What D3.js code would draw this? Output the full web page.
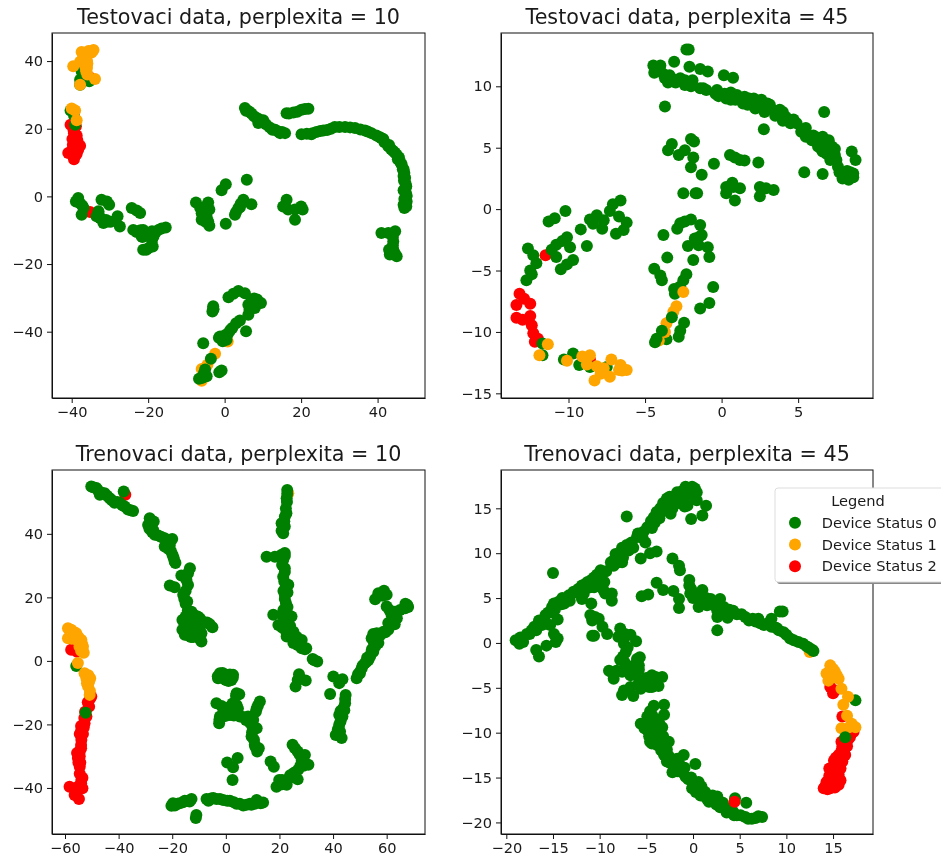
<!DOCTYPE html>
<html>
<head>
<meta charset="utf-8">
<title>t-SNE perplexita</title>
<script src="https://d3js.org/d3.v7.min.js"></script>
<style>
    html, body { margin: 0; background: #fff; }
    svg { display: block; filter: blur(0.45px); }
    text { font-family: "DejaVu Sans", sans-serif; fill: #1a1a1a; }
    .tick text { font-size: 14.6px; }
    .tick line, .domain { stroke: #111; }
</style>
</head>
<body>
<svg></svg>
<script>
const statusNames = ['Device Status 0', 'Device Status 1', 'Device Status 2'];
const statusColors = ['green', 'orange', 'red'];

// Testovaci data, perplexita = 10
const test10Red = [[-35.4,35.3],[-40.3,21.2],[-38.9,20.7],[-39.4,18.7],[-39.4,16.7],[-37.8,15],[-39.7,15.3],[-40.9,12.8],[-39.1,12.3],[-39.4,11],[-38.3,13.8],[-35.2,-4.6],[-39.5,19.5],[-38.7,18],[-39.8,17],[-38.9,15.5],[-39,14],[-40,13.5],[-39.5,12],[-38.7,12.5],[-38.5,16.5]];
const test10GreenLow = [[-37.8,34.5],[-37.4,37],[-35.4,34],[-37.8,33],[-36.8,40],[-40.3,25.4],[-39.4,24],[-39.1,21.2],[-38.3,-0.5],[-38.9,-1.5],[-37.8,-2],[-36.9,-3.4],[-37.4,-5.4],[-33,-4.4],[-33.5,-5.9],[-32.2,-1],[-30.8,-1.5],[-30.2,-2.5],[-31.7,-7.9],[-30.4,-7.4],[-32.6,-6.4],[-28,-5.9],[-27.4,-8.9],[-24.3,-3.4],[-23,-4.2],[-22.1,-4.9],[-23.9,-9.9],[-22.6,-10.3],[-21.3,-9.9],[-21.7,-11.8],[-21.3,-15.8],[-20,-15.3],[-18.8,-14.8],[-18.6,-11.8],[-19,-10.3],[-17.3,-9.9],[-15.4,-9.2],[-7.5,-1.8],[-6.4,-3.4],[-4.3,-1.8],[-4,-3.9],[-6,-6.9],[-4.3,-7.4],[-4,-8.7],[-5.4,-4.9],[-0.8,1.8],[0.3,3.6],[5.8,4.9],[0.3,-8.1],[2.7,-5.4],[3.6,-3.4],[4.9,-1],[7,-2.3],[4.2,-2.2],[16.2,-1],[15.3,-3],[16.6,-3.9],[18.4,-3.9],[18.4,-6.9],[20,-3],[20.4,-3.9],[5.3,26.1],[6.4,25.1],[5.6,25.3],[8.4,23.2],[10.1,22.5],[8.8,21.7],[13.2,19.7],[14.5,18.7],[15.8,18.7],[16.2,24.6],[18,24.8],[20.1,25.6],[21.9,25.9],[20.1,18.4],[22.7,18.4],[24,19],[25.8,19.5],[28.8,20.5],[31.5,20.5],[34.1,20.2],[36.7,19.5],[38.4,18.7],[40.6,17.5],[42.8,14.8],[45,12.3],[46.3,9.4],[47,6.9],[47.3,3.9],[47.4,1],[47.6,-1.5],[47,-3.4],[39.7,18],[41.8,16],[44,13.5],[45.6,11.5],[46.6,8],[47.2,5.5],[47.3,2.5],[47.5,0],[41,-10.8],[42.8,-10.8],[44.6,-10.3],[44.1,-13.3],[44.1,-15.8],[43.2,-17.2],[45,-17.7],[44.3,-16.8]];
const test10GreenDense = [[21.5,18.5],[23,18.7],[25,19.3],[26.8,19.6],[27.8,20],[30,20.5],[32.8,20.4],[35.5,19.8],[37.4,19.2],[41.5,17],[43.5,14],[43,15.2],[44.5,13],[45.3,11],[46,10],[46.8,8],[46.8,6],[46.9,4.7],[47.5,3],[46.8,1.8],[47.6,0.2],[47,-0.8],[46.8,-2.5],[47.5,-3],[41,17.2],[5.8,25.5],[7,24.5],[7.7,23.7],[9,22.8],[9.5,22],[10.8,21.3],[11.8,20.4],[12.5,19.7],[14,19.2],[15,19],[16.8,24.5],[19,25],[21,25.8],[-22,-10],[-23,-10.5],[-21.5,-12],[-22,-10.8],[-20.5,-15.8],[-16.5,-9.5],[-18,-10.5],[-19,-13],[-5,-3],[-5.5,-6],[-5,-7.5],[-6,-5],[-4.7,-6],[-5.5,-4],[-37.2,-2.8],[-32,-6.8],[-33,-5],[3,-4.6],[4,-3.2],[-31,-7],[-29.8,-7.5],[44,-12],[44,-14.5],[43,-15.8],[44.5,-16.8]];
const test10Orange = [[-39.6,38.5],[-37.4,42.7],[-35.6,43],[-34.3,43.3],[-34.8,42.5],[-37.8,39.8],[-35.9,39.3],[-36.3,37.9],[-35.9,36],[-37.8,33],[-33.9,34.7],[-37,42.3],[-36.5,40.8],[-39.1,25.4],[-38.7,22.5],[-40,26],[-2.5,-46.5],[0.8,-42.9],[-6,-51],[-4.5,-49.8],[-6,-54.5],[-36.3,42],[-35.5,42.4],[-37,41],[-36,38],[-36.2,37],[-36,40]];
const test10Green = [[1,-29.8],[2.3,-28.8],[3.6,-28],[5.3,-28.6],[7.7,-30.2],[9.5,-31.5],[6.2,-32],[7.9,-33],[6.2,-35],[-3,-32.5],[-3.2,-34],[4,-36.7],[5.6,-39.9],[2,-38.9],[1,-40.4],[-0.8,-41.9],[0.5,-42.4],[-1.2,-41.4],[-5.6,-43.4],[-3.6,-48],[-5.1,-51.2],[-4.7,-53.2],[-6.7,-53.9],[-6,-53.7],[-0.8,-51.5],[-1.4,-52],[7,-31],[6.5,-33.5],[8.5,-30.5],[3,-37.5],[1.5,-39.5],[0.2,-41],[-0.5,-42.8],[-1.5,-41.8],[-5.4,-52.2],[-5.7,-53.5],[-3,-33.2],[-2.9,-33.4]];

// Testovaci data, perplexita = 45
const test45Red = [[-11.5,-3.75],[-13.2,-6.9],[-13.4,-7.8],[-12.9,-7.3],[-12.5,-7.7],[-13.4,-8.85],[-13,-9],[-12.5,-8.7],[-12.4,-9.45],[-12.3,-10.1],[-12,-10.55],[-12.2,-10.8],[-8.6,-12.25]];
const test45Green = [[-4.46,11.7],[-4,11.7],[-4.4,11.1],[-4,11.2],[-3.7,10.65],[-3.4,10.9],[-3.15,10.4],[-2.7,10.65],[-2.4,10.1],[-2.1,10.2],[-1.4,9.85],[-1.2,9.85],[-0.4,9.4],[-0.3,9.7],[0.2,9.4],[0.3,9],[1,9.3],[0.9,8.9],[1.5,9.15],[1.4,8.6],[2.1,9],[2.2,8.2],[2.6,8.9],[2.8,7.9],[3.15,8.5],[3.7,7.8],[3.8,8.1],[4.2,7.5],[4.5,7],[4.9,7],[5.4,6.4],[5.2,6.3],[6,6],[5.9,5.6],[6.3,5.1],[6.7,5.5],[6.85,4.5],[7.2,5.1],[7.1,4],[7.5,4],[7.6,3.45],[8,2.9],[7.9,2.5],[8.3,2.4],[8.6,2.9],[8.5,2.6],[6.7,7.9],[-3.7,8.35],[-3.1,12],[-2.1,11.6],[-2.3,13],[-2.15,13],[-1.4,11.4],[-0.9,11.2],[0.15,10.9],[0.75,10.7],[2.76,6.5],[8.5,4.7],[8.75,4],[5.4,3],[6.6,2.85],[-3.25,5.3],[-3.5,4.8],[-2.8,4.4],[-2.4,4.8],[-2,5.7],[-1.8,5.5],[-1.85,4.2],[-2,3.4],[-1.3,2.8],[-0.5,3.7],[-2.5,1.3],[-1.7,1.3],[-1.6,1.3],[0.55,4.4],[0.87,4.2],[1.2,4],[1.5,3.95],[2.4,3.8],[0.7,2.15],[0.3,1.8],[0.3,1.3],[1.2,1.7],[0.87,0.7],[2.5,1.8],[2.5,1.05],[2.9,1.7],[3.4,1.55],[0.76,1.8],[-6.6,0.7],[-7.1,0.4],[-7.3,-0.15],[-6.7,-0.6],[-6.2,-1.1],[-6.4,-1.7],[-6.9,-2],[-8.15,-0.5],[-8.6,-0.85],[-8.4,-1.2],[-7.8,-1.6],[-7.7,-0.9],[-10.2,-0.15],[-10.9,-0.75],[-11.3,-1],[-9.2,-1.65],[-8.8,-3],[-10.1,-2.3],[-10.8,-2.9],[-9.9,-3.1],[-11.1,-3.3],[-10.8,-3.9],[-9.7,-4.15],[-10.1,-4.5],[-10.5,-4.9],[-10.4,-2.6],[-12.65,-3.2],[-12.3,-3.75],[-12.1,-4.4],[-12.5,-5],[-12.4,-5.3],[-12.75,-5.8],[-11.7,-10.95],[-11.7,-11.9],[-10.3,-12.25],[-9.7,-11.75],[-9.3,-12.7],[-8.6,-12.85],[-7.5,-12.85],[-2,-0.85],[-2.4,-1],[-2.7,-1.15],[-2.9,-1.6],[-1.4,-1.3],[-3.8,-2.1],[-1.5,-2.3],[-1.75,-2.4],[-1.3,-2.1],[-2.2,-3],[-1.5,-2.95],[-0.9,-3.1],[-0.8,-3.9],[-1.85,-4.15],[-3.55,-3.95],[-4.4,-4.85],[-4,-5.4],[-3.9,-5.8],[-2.3,-5.3],[-2.5,-5.8],[-2.7,-6.3],[-3.1,-6.5],[-3.05,-6.9],[-0.55,-6.35],[-0.8,-7.65],[-1.4,-8.1],[-2.45,-9.25],[-2.7,-9.9],[-2.8,-10.4],[-3.6,-10.6]];
const test45GreenDense = [[-4.3,11.5],[-3.8,11],[-3.2,10.6],[-3.5,10.3],[-3,10.3],[-2.4,10.5],[-2,10],[-1.9,10.5],[-1,9.7],[-0.2,9.2],[0.6,9.5],[0.6,8.9],[1.2,9],[1.8,9],[1.7,8.5],[2.5,8.6],[2,8.5],[3,8.6],[2.8,8.2],[3.3,8.1],[3.5,7.6],[4,7.9],[4,7.2],[4.7,7.3],[5.5,6.6],[5.6,6],[5.5,5.9],[6.3,5.8],[6.5,4.9],[6.9,5.3],[6.6,4.7],[7.4,4.4],[7,4.8],[7.7,3],[8.2,3.1],[8.6,2.6],[8.1,2.7],[8.4,3],[7.4,4.9],[6.6,5.9],[7,5.6]];
const test45Orange = [[-11.35,-11],[-11.9,-11.9],[-10.1,-12.35],[-9.1,-12],[-8.6,-11.9],[-8.8,-12.65],[-8.15,-12.8],[-7.7,-12.95],[-7.2,-12.25],[-7.3,-13.65],[-7.9,-13.4],[-8.3,-13.95],[-6.6,-12.7],[-6.7,-13.1],[-6.2,-13.1],[-6.5,-13.15],[-2.5,-6.75],[-2.95,-7.9],[-3.15,-8.35],[-3.6,-9.3],[-3.7,-10],[-4.1,-10.7]];
const test45GreenTop = [[-3.25,-8.8],[-3.9,-9.9],[-4.25,-10.55],[-4.35,-10.85]];

// Trenovaci data, perplexita = 10
const train10Red = [[-37.5,52.3],[-57.7,3.5],[-55.5,2.9],[-50.2,-11.2],[-51,-14.4],[-52,-17.5],[-52.7,-19.6],[-53.9,-21.7],[-53.9,-24.9],[-54.5,-28.5],[-55.2,-30.6],[-54.5,-33.3],[-53.9,-37.5],[-58.3,-39.6],[-55.2,-39.6],[-56.4,-42.2],[-54.8,-43.5],[-53.5,-40.1],[-53.3,-23],[-54.5,-35.5],[-55,-32],[-54,-26.5],[-51.5,-13],[-52.5,-16],[-52.8,-18],[-54,-20.5],[-53,-21],[-54.5,-23],[-54,-27.5],[-55.5,-29],[-54.5,-30],[-54.3,-32],[-54,-38.5],[-54.8,-40.5],[-55.5,-41],[-53.5,-36.8],[-56,-40.5],[-50.7,-12]];
const train10GreenLow = [[-55.8,-1.6]];
const train10Orange = [[-58.9,10.3],[-57.7,9.8],[-58.9,7.1],[-55.8,8.7],[-53.9,6.6],[-57.5,7],[-53.3,4.5],[-53,2.6],[-55.2,-0.7],[-52.7,-3.9],[-52,-5.5],[-50.6,-5.5],[-51.4,-8],[-50.8,-10.7],[-55.2,6.6],[-54.6,4.5],[23.3,52.8],[-58,8],[-57,8],[-56.5,9],[-58,9.2],[-55,7.5],[-54.5,6],[-53.7,5.5],[-53.5,3.5],[-54,3.2],[-51.8,-7],[-51.3,-4.5],[-50.7,-9.5],[-52,-4.7],[-51,-6.5]];
const train10Green = [[-50.2,54.9],[-48.3,54.4],[-47,52.3],[-45.2,52.8],[-43.3,51.2],[-41.5,49.8],[-39.6,49.8],[-37.7,48.6],[-36.5,47.7],[-34.6,47.2],[-38.1,53.3],[-28.4,44.9],[-29,42.8],[-26.9,43.9],[-27.1,41.2],[-26.5,39.7],[-22.8,38.6],[-20,38.4],[-22.8,36],[-20.9,36.5],[-19.9,33.4],[-19.1,31.3],[-13.4,29.2],[-14.1,27.6],[-16.6,26.9],[-14.1,23.9],[-20.9,23.7],[-19.1,23.2],[-15.9,20.8],[-14.4,18.7],[-12.8,15.5],[-16.2,12.9],[-9.7,13.4],[-13.4,11.9],[-16.2,9.8],[-15.3,8.2],[-12.2,7.5],[-9.1,6.1],[-9.7,10.8],[-7,12.1],[-5,10.6],[-13.4,14],[-11,9.8],[-9.1,8.7],[22.9,53.8],[22.9,52.6],[22.7,51.2],[22.4,48],[22,45.4],[20.8,43.3],[21.4,40.2],[22,42.3],[15.2,32.8],[18.3,32.8],[20.8,33.4],[21.4,31.8],[22,29.2],[21.4,26.5],[22.4,23.4],[22,20.8],[22.4,18.2],[23.3,14.5],[17.7,14.5],[19.6,11.3],[22.7,12.9],[22.7,8.7],[25.2,9.2],[25.8,6.6],[28.3,6.6],[28.3,4],[29.5,3.7],[32.4,0.6],[34.1,-0.2],[22.7,7.7],[25.2,5.6],[27.3,-4.2],[29.8,-6.2],[26,-8.1],[26.8,-6],[48.8,-5.5],[50.7,-2.3],[53.2,0.3],[55,2.9],[54.4,7.1],[56.3,8.7],[56.9,5.6],[60.6,9.8],[58.8,9.2],[60.6,11.9],[63.8,13.4],[60,17.1],[63.1,15.5],[66.9,16.6],[67.7,17.6],[55.7,19.4],[56.9,21.3],[59,22.1],[60,20.8],[51.9,-0.7],[50,-3.5],[53.8,1.4],[55.7,4.5],[40.1,-4.9],[42.3,-7],[43.5,-5.8],[38.9,-10.4],[44.7,-10.7],[44.5,-13.3],[43.8,-14.9],[42.3,-17],[42.3,-20.1],[41,-23.3],[43.2,-24.3],[42.6,-22.2],[-2.2,-3.9],[0.2,-4.4],[2.1,-6],[-2.9,-5.5],[2.7,-4.4],[-1,-5.5],[4,-10.2],[-3.5,-13.3],[-1.6,-14.2],[1.5,-14.4],[4,-13.9],[-2.2,-17.5],[-2.5,-19.6],[1.5,-17],[5.2,-17.5],[12.7,-12.8],[11.2,-16],[10.2,-18.6],[11.5,-21.2],[9.6,-23.8],[10.8,-26.4],[11.7,-28.5],[8.3,-17.5],[0.5,-32],[2.7,-33.5],[4.4,-30.6],[2.5,-37.5],[16.7,-31.7],[17.9,-33.3],[24.9,-26.4],[26.8,-28.5],[29.5,-29.6],[28.3,-31.2],[30.8,-32.7],[27,-34.3],[25.2,-35.4],[26.8,-37.3],[22.7,-37.5],[19.9,-37.5],[18.9,-39.6],[22.7,-39],[-20.3,-45.6],[-19.7,-44.8],[-17.2,-44.8],[-15.3,-44],[-12.8,-43.5],[-11,-48.5],[-11.2,-49.5],[-7.2,-43.5],[-4.7,-43.2],[-2.2,-43.5],[1.5,-44],[5.2,-45],[7.7,-45.3],[10.8,-45],[11.5,-43.8],[13.9,-44.6],[-6,-43.7],[9.5,-45.3],[-52.3,-16.3]];
const train10GreenDense = [[-49.5,54.7],[-47.8,53.8],[-46.5,53],[-44.3,52],[-42.5,50.6],[-40.5,50],[-38.6,49],[-35.5,47.4],[-28,44],[-28.2,42.5],[-28.5,41.6],[-27.5,40.6],[-25.2,39.5],[-24,39],[-22,37.7],[-21.5,35.3],[-20.5,34.6],[-19.5,32.5],[-18.8,30.8],[-15,27],[-14.7,25.5],[-15,22],[-15.5,19.5],[-15,18],[-14.2,15.8],[-15,14],[-13,13.5],[-14.5,12],[-12,14.5],[-12,12.5],[-15,11],[-14.5,9],[-14,8],[-10.5,12],[-8.8,12.5],[-11.5,10.8],[-11,8],[-9.8,7],[-10.5,14],[-6,11.5],[-13,7.5],[22.8,50],[22.6,46.5],[21.8,44],[20.8,41],[22,34],[22,33],[21,30.2],[22,28],[21.8,25],[23.3,24],[21.5,22],[23,21.5],[22,19.5],[23,17],[21.5,16],[21,14.5],[22.5,15.5],[24.5,14],[22,11],[21,10.5],[24,11],[23.8,8],[26.5,7.5],[26.8,5],[27.5,5.5],[30,4],[33,0.2],[49.3,-4.2],[50,-4],[51,-1.5],[52.5,-0.3],[52.7,1],[54,2],[54.5,3.7],[55.3,5.5],[55.8,7.5],[55,8.5],[57.5,8],[59.5,9],[61,11],[62,12.5],[63,11.5],[61.8,14.5],[61,16],[65,16],[68,17],[67,18],[57.6,21],[58.5,20.5],[44.5,-12],[44.2,-15.5],[42.8,-15.8],[43.5,-17.5],[42.8,-19],[41.8,-21.5],[42.2,-23.5],[-2,-4.5],[-1.2,-3.8],[-0.5,-5],[0.8,-5.5],[1.5,-4.3],[0,-6],[1,-6.3],[2.6,-5.3],[-3,-4.8],[3.8,-11],[5,-10.5],[2.5,-13.4],[3.5,-15.5],[3,-17.2],[0,-17.3],[-2.4,-18.5],[-1,-17.5],[1,-16.5],[6.5,-17.7],[7.5,-18.6],[9,-19.5],[10,-21],[9.8,-22.5],[10.5,-24.8],[11,-27],[12.3,-27.5],[11.5,-15],[12,-14],[4.5,-15],[25.8,-27.5],[27.5,-29.5],[28.8,-30],[27.8,-33],[26,-35],[24,-36],[21,-37.5],[21,-38.8],[20,-39],[24,-36.8],[29,-33],[-19,-45.5],[-18,-45],[-16,-44.5],[-14,-44],[-13.5,-44.3],[-6.5,-44],[-5.5,-43.3],[-3.5,-43.5],[-1,-43.8],[0.5,-44],[3,-44.5],[4,-45],[6.5,-45.5],[9,-45],[12.5,-44.5],[13,-44.8]];

// Trenovaci data, perplexita = 45
const train45Orange = [[12.5,-1]];
const train45Green = [[-18.6,-0.1],[-19,0.3],[-18.3,0.5],[-17.8,1],[-17,1.8],[-16.5,2.5],[-15.8,3.1],[-15.1,4],[-14.4,4.6],[-13.7,4.9],[-12.8,5.7],[-11.9,6.4],[-11.3,6.8],[-10.6,7.3],[-9.9,8.1],[-8.8,9],[-8,9.8],[-7.1,10.9],[-6,11.8],[-4.9,12.9],[-4.2,14],[-3.5,15],[-2.8,16.1],[-1.7,16.8],[-0.8,17.4],[-0.1,17.4],[0.4,16.8],[-18.5,0.6],[-17.3,1.4],[-16.2,2],[-15.2,3.4],[-13.8,4.4],[-11.7,5.5],[-10.6,6.2],[-9.6,5.9],[-8.5,8.6],[-7.6,9],[-6.5,10.7],[-5.4,11.7],[-4.6,13.1],[-3.9,14.4],[-2.4,14.4],[-3.1,15.3],[-2.1,15.7],[-1.4,16.6],[-0.6,15.3],[0.4,15.9],[1.4,15.3],[-0.2,13.8],[1,14.2],[-7.1,14.1],[-15,7.8],[-15.3,2],[-14.5,2.6],[-14.9,1],[-14.5,0.5],[-14.7,0.1],[-15.7,-0.3],[-16.8,-0.8],[-16.5,-1.5],[-5.6,9.4],[-4.6,10],[-3.9,10.2],[-5.1,11.2],[-2.2,9.4],[-1.5,8.6],[-1.4,8.1],[-8.7,5.5],[-8.7,4.7],[-9.4,5.5],[-10.9,4.4],[-11.9,4.9],[-5.5,5.2],[-4.8,5.4],[-3.9,6.7],[-3.2,5.9],[-2.1,5.8],[-1.5,4.9],[-1.5,3.9],[-0.4,7],[-0.4,6.4],[-0.3,5.5],[0.6,5.5],[1,5.9],[0.6,4],[1.5,4.2],[1.9,4.9],[2.9,4.9],[2.6,2.9],[3.7,2.8],[3.3,4],[4.3,3.6],[5.2,3.2],[6,2.5],[7,2.7],[7.6,2],[8.4,1.8],[8.4,2.7],[9.3,3.5],[9.6,3.5],[2.6,1.4],[9.7,1.2],[10.4,0.5],[11.3,0.1],[12.2,-0.4],[12.8,-0.8],[1.1,4.7],[-11,3.1],[-10.8,2.5],[-10.1,2.7],[-9.7,1.8],[-10.8,0.8],[-10.6,0.8],[-9.2,1],[-7.8,1.6],[-8,0.7],[-6.7,0.9],[-6.1,0.2],[-7.4,-0.1],[-7.2,-1],[-7.8,-1.9],[-5.7,-1.6],[-5.8,-2.5],[-9,-3.1],[-8.5,-4],[-7.6,-3.2],[-6.7,-3.6],[-6.3,-2.5],[-7.6,-5.8],[-7.4,-5.3],[-6.7,-4.9],[-6.4,-5.9],[-5.6,-5.1],[-5.5,-4.2],[-4.4,-3.6],[-4.4,-4.9],[-3.7,-4.8],[-3.3,-3.8],[-5.1,-4.5],[-3.1,-6.9],[-4.2,-7],[-3.1,-8],[-5.6,-9],[-4.9,-8.2],[-4.4,-9],[-4.9,-9.7],[-3.9,-9.7],[-4.4,-11.2],[-3.5,-11],[-2.8,-11.9],[-3.1,-12.5],[-2.4,-13.4],[-2.2,-14.4],[-1,-12.5],[0.25,-13.5],[-1.4,-13.6],[-1.7,-12.9],[-0.8,-14.9],[0.6,-15.5],[-0.1,-16.2],[0.8,-17],[1.7,-17.7],[2.6,-17.1],[2.9,-18.3],[4,-18.6],[4.5,-17.3],[5.7,-17.8],[4.7,-19.2],[5.6,-19.4],[6.3,-19.6],[7.4,-19.4],[1.1,-16.8],[1.9,-17.1],[17.4,-6.4]];
const train45GreenDense = [[-18.2,0.1],[-17.5,1],[-16.8,1.4],[-16.6,2],[-16,2.6],[-15.5,3.4],[-14.8,3.7],[-14.9,4.4],[-14.1,4.3],[-14,5],[-13.2,4.7],[-13.3,5.3],[-12.4,5.6],[-12.3,6],[-11.6,6],[-11.5,6.6],[-11,6.2],[-10.9,7],[-10.3,6.6],[-10.3,7.6],[-9.9,7],[-9.3,8],[-9.5,6.8],[-8.5,9.2],[-8.2,8.9],[-8.3,9.9],[-7.6,10],[-7.5,9.5],[-7.6,10.6],[-6.9,10.3],[-6.6,11.2],[-6.4,10.6],[-5.5,11.9],[-5.9,12.2],[-5.3,12.4],[-4.4,12.8],[-4.5,13.6],[-4.1,13.4],[-3.9,14.6],[-3.6,13.9],[-3.4,14.6],[-3.2,15.6],[-2.9,14.8],[-2.6,15.6],[-2.5,16.3],[-2,16.3],[-2.2,15],[-1.6,15.6],[-1.2,16.9],[-1,15.9],[-0.5,17],[-0.9,15.2],[0,16.4],[0.2,17.2],[-4.8,-9],[-4.4,-8],[-3.9,-8.5],[-4.7,-10.4],[-4,-10.5],[-4.2,-9.5],[-5.2,-9.5],[-3.8,-11.4],[-3.2,-10.4],[-3.4,-12],[-2.6,-12.6],[-2.8,-13.2],[-2.2,-13],[-2,-13.8],[-1.7,-14.3],[-1.2,-14.4],[-0.9,-13.9],[-0.5,-15.2],[-0.2,-15],[0,-15.5],[0.3,-16],[0.3,-16.6],[0.9,-16],[1.3,-16.6],[1.4,-17.2],[2.1,-17],[2.2,-17.6],[2.5,-18],[3.2,-17.8],[3.5,-18.4],[3.6,-18.9],[4.3,-18.8],[4.4,-19.2],[5.1,-19.2],[5.9,-19.6],[6.7,-19.5],[7,-19.3],[1.5,-17.4],[0.6,-16.7],[0.2,5.2],[1.4,5],[2.2,4.2],[2.6,3.6],[3,3.4],[3.9,3.7],[4.7,3.2],[5.6,2.9],[6.4,2.7],[6.7,2.4],[7.2,2.2],[8,2.2],[8.9,1.7],[9.2,1.4],[9,1.6],[10,0.9],[10.8,0.3],[11.8,-0.1],[12.5,-0.6],[-0.2,6],[0,5],[0.9,4.5],[12.9,-0.9],[-10.5,2.9],[-7.3,1],[-7.4,0.5],[-7,-0.5],[-7.5,-1.5],[-7.3,-2.2],[-7.1,-3],[-6.5,-3],[-6.2,-3.3],[-5.8,-3],[-8.6,-3.4],[-8.2,-3.1],[-5.8,-4.4],[-5,-3.9],[-4.7,-4.9],[-4,-3.8],[-6,-1.8],[-3.6,-9],[-3.3,-9.4],[-3.5,-10],[-4.6,-11],[-2.6,-11],[-4.6,-7.6]];
const train45RedLow = [[16,-8.2]];
const train45RedMid = [[4.45,-17.7],[14.7,-4.9],[15.2,-5.3],[15,-5.6],[17.2,-9.9],[16.6,-10.8],[15.9,-12],[15.8,-13],[15.4,-13.8],[14.9,-14.5],[14.5,-15.3],[15.6,-15.8],[14,-16.2],[14.4,-16.3],[15,-15.3],[16.3,-11.2],[16.2,-12.2],[15.5,-14.3],[16.8,-10.5],[16.5,-11.5],[16,-11.5],[16.3,-12.5],[15.6,-12.5],[16,-13.2],[15.3,-13.5],[15.8,-14],[15,-14],[15.6,-14.7],[14.6,-14.8],[15.3,-15],[14.3,-15.5],[15,-15.8],[14.2,-15.9],[14.7,-16.2],[15.2,-16.1],[16.9,-10.2],[16.1,-11.9],[15.1,-13.1],[15.9,-11],[15.3,-12.8],[14.6,-14],[16.7,-9.9],[15.8,-15.3]];
const train45OrangeTop = [[14.7,-2.5],[15,-2.9],[14.3,-3.4],[14.5,-4.2],[15.6,-4],[15.9,-5.1],[16.6,-6],[16.1,-6.9],[16.5,-8.1],[17,-9],[17.4,-9.4],[15.9,-9.5],[16.7,-9.4],[15.2,-3.2],[15.4,-3.6],[14.8,-3.8]];
const train45GreenTop = [[16.3,-10.5]];

// status + body in draw order, later layers paint over earlier ones
const test10Layers = [[2, test10Red], [0, test10GreenLow], [0, test10GreenDense], [1, test10Orange], [0, test10Green]];
const test45Layers = [[2, test45Red], [0, test45Green], [0, test45GreenDense], [1, test45Orange], [0, test45GreenTop]];
const train10Layers = [[2, train10Red], [0, train10GreenLow], [1, train10Orange], [0, train10Green], [0, train10GreenDense]];
const train45Layers = [[1, train45Orange], [2, train45RedLow], [0, train45Green], [0, train45GreenDense], [2, train45RedMid], [1, train45OrangeTop], [0, train45GreenTop]];

const titles = ['Testovaci data, perplexita = 10', 'Testovaci data, perplexita = 45', 'Trenovaci data, perplexita = 10', 'Trenovaci data, perplexita = 45'];
const xDomains = [[-45.15, 52.4], [-14.41, 9.89], [-64.85, 74.3], [-20.57, 19.28]];
const yDomains = [[-59.6, 48.3], [-15.38, 14.34], [-54.5, 60.1], [-21.29, 19.27]];
const xTicks = [[-40, -20, 0, 20, 40], [-10, -5, 0, 5], [-60, -40, -20, 0, 20, 40, 60], [-20, -15, -10, -5, 0, 5, 10, 15]];
const yTicks = [[-40, -20, 0, 20, 40], [-15, -10, -5, 0, 5, 10], [-40, -20, 0, 20, 40], [-20, -15, -10, -5, 0, 5, 10, 15]];
const layers = [test10Layers, test45Layers, train10Layers, train45Layers];

const width = 941;
const height = 864;
const boxes = [
    { left: 52, right: 425, top: 33, bottom: 398 },
    { left: 501, right: 873, top: 33, bottom: 398 },
    { left: 52, right: 425, top: 470, bottom: 834 },
    { left: 501, right: 873, top: 470, bottom: 834 }
];
const radius = 6;

const svg = d3.select('svg').attr('width', width).attr('height', height);

titles.forEach((title, i) => {
    const box = boxes[i];
    const x = d3.scaleLinear().domain(xDomains[i]).range([box.left, box.right]);
    const y = d3.scaleLinear().domain(yDomains[i]).range([box.bottom, box.top]);

    const g = svg.append('g');

    layers[i].forEach(([status, points]) => {
        g.append('g').selectAll('circle').data(points).enter().append('circle')
            .attr('cx', d => x(d[0]))
            .attr('cy', d => y(d[1]))
            .attr('r', radius)
            .attr('fill', statusColors[status]);
    });

    // ramecek grafu
    g.append('rect')
        .attr('x', box.left).attr('y', box.top)
        .attr('width', box.right - box.left).attr('height', box.bottom - box.top)
        .attr('fill', 'none').attr('stroke', '#111').attr('stroke-width', 1);

    g.append('g').attr('transform', `translate(0,${box.bottom})`)
        .call(d3.axisBottom(x).tickValues(xTicks[i]).tickSizeInner(5).tickSizeOuter(0).tickPadding(4).tickFormat(d3.format('d')))
        .attr('font-family', null).attr('font-size', null);

    g.append('g').attr('transform', `translate(${box.left},0)`)
        .call(d3.axisLeft(y).tickValues(yTicks[i]).tickSizeInner(5).tickSizeOuter(0).tickPadding(4).tickFormat(d3.format('d')))
        .attr('font-family', null).attr('font-size', null);

    g.append('text')
        .attr('x', (box.left + box.right) / 2)
        .attr('y', box.top - 9)
        .attr('text-anchor', 'middle')
        .attr('font-size', '20.7px')
        .text(title);
});

// legenda, presahuje pres pravy okraj
const legend = svg.append('g');
legend.append('rect').attr('x', 777).attr('y', 490).attr('width', 180).attr('height', 94).attr('rx', 3).attr('fill', '#888');
legend.append('rect').attr('x', 775).attr('y', 488).attr('width', 180).attr('height', 94).attr('rx', 3)
    .attr('fill', '#fff').attr('stroke', '#ddd');
legend.append('text').attr('x', 858).attr('y', 505.5).attr('text-anchor', 'middle').attr('font-size', '14.6px').text('Legend');

const legendY = d3.scalePoint().domain(statusNames).range([522.7, 566.3]);
legend.selectAll('circle').data(statusNames).enter().append('circle')
    .attr('cx', 795)
    .attr('cy', d => legendY(d))
    .attr('r', radius)
    .attr('fill', (d, i) => statusColors[i]);
legend.selectAll('text.item').data(statusNames).enter().append('text')
    .attr('class', 'item')
    .attr('x', 821.7)
    .attr('y', d => legendY(d) + 5)
    .attr('font-size', '14.6px')
    .text(d => d);
</script>
</body>
</html>
